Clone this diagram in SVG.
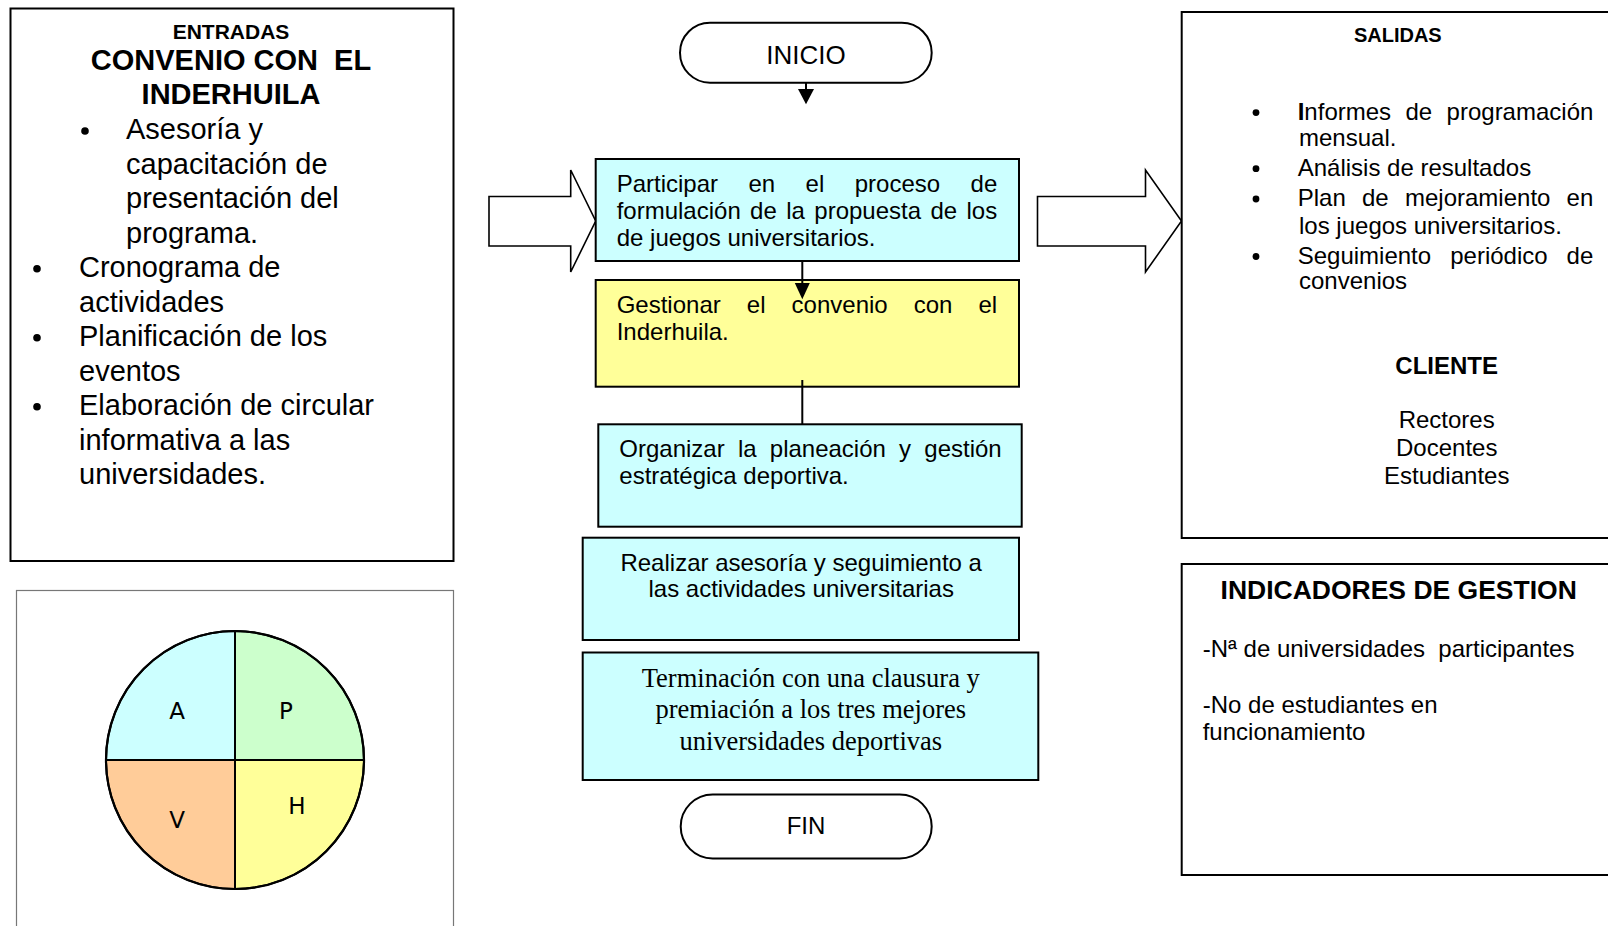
<svg xmlns="http://www.w3.org/2000/svg" width="1608" height="926" viewBox="0 0 1608 926">
<style>
text{font-family:"Liberation Sans",Arial,sans-serif;fill:#000}
.box{stroke:#000;stroke-width:2}
.cy{fill:#CCFFFF}
.ye{fill:#FFFF99}
.frame{fill:#fff;stroke:#000;stroke-width:2}
.t24{font-size:24px}
.t29{font-size:29px}
.b{font-weight:bold}
.mid{text-anchor:middle}
.end{text-anchor:end}
.blk{fill:#fff;stroke:#000;stroke-width:1.6;stroke-linejoin:miter}
.term{fill:#fff;stroke:#000;stroke-width:2}
.ser{font-family:"Liberation Serif","Times New Roman",serif;font-size:26.5px}
.pd{font-family:"DejaVu Sans",sans-serif;font-size:23px;text-anchor:middle}
.q{stroke:#000;stroke-width:2}
.con{stroke:#000;stroke-width:2;fill:none}
</style>
<rect width="1608" height="926" fill="#fff"/>

<g id="entradas">
<rect class="frame" x="10.5" y="8.5" width="443" height="552.5"/>
<text class="b mid" x="231" y="38.6" font-size="21">ENTRADAS</text>
<text class="b mid" x="231" y="69.6" font-size="29" xml:space="preserve">CONVENIO CON  EL</text>
<text class="b mid" x="231" y="103.6" font-size="29">INDERHUILA</text>
<circle cx="85" cy="131" r="3.8"/>
<circle cx="37" cy="268.8" r="3.8"/>
<circle cx="37" cy="337.8" r="3.8"/>
<circle cx="37" cy="406.8" r="3.8"/>
<text class="t29" x="126" y="139.3">Asesoría y</text>
<text class="t29" x="126" y="173.8">capacitación de</text>
<text class="t29" x="126" y="208.3">presentación del</text>
<text class="t29" x="126" y="242.8">programa.</text>
<text class="t29" x="79" y="277.3">Cronograma de</text>
<text class="t29" x="79" y="311.8">actividades</text>
<text class="t29" x="79" y="346.3">Planificación de los</text>
<text class="t29" x="79" y="380.8">eventos</text>
<text class="t29" x="79" y="415.3">Elaboración de circular</text>
<text class="t29" x="79" y="449.8">informativa a las</text>
<text class="t29" x="79" y="484.3">universidades.</text>
</g>

<g id="pdca">
<rect x="16.5" y="590.5" width="437" height="345" fill="#fff" stroke="#777" stroke-width="1.2"/>
<path class="q" d="M235,760 L106,760 A129,129 0 0 1 235,631 Z" fill="#CCFFFF"/>
<path class="q" d="M235,760 L235,631 A129,129 0 0 1 364,760 Z" fill="#CCFFCC"/>
<path class="q" d="M235,760 L106,760 A129,129 0 0 0 235,889 Z" fill="#FFCC99"/>
<path class="q" d="M235,760 L235,889 A129,129 0 0 0 364,760 Z" fill="#FFFF99"/>
<circle cx="235" cy="760" r="129" fill="none" stroke="#000" stroke-width="2.2"/>
<text class="pd" x="177" y="719">A</text>
<text class="pd" x="286" y="719">P</text>
<text class="pd" x="177" y="828">V</text>
<text class="pd" x="297" y="814">H</text>
</g>

<g id="arrow-in">
<polygon class="blk" points="489,196.5 570.7,196.5 570.7,170 595.7,221 570.7,272 570.7,246 489,246"/>
</g>
<g id="arrow-out">
<polygon class="blk" points="1037.5,196.5 1145.5,196.5 1145.5,170 1181.5,221 1145.5,272 1145.5,246 1037.5,246"/>
</g>

<g id="inicio">
<rect class="term" x="680" y="22.7" width="251.7" height="60" rx="30" ry="30"/>
<text class="mid" x="806" y="64" font-size="26">INICIO</text>
</g>

<g id="paso1">
<rect class="box cy" x="595.7" y="159" width="423.3" height="102"/>
<text class="t24" y="191.7"><tspan x="616.7">Participar</tspan><tspan x="748.5">en</tspan><tspan x="805.6">el</tspan><tspan x="854.7">proceso</tspan><tspan x="970.6">de</tspan></text>
<text class="t24" y="219"><tspan x="616.7">formulación</tspan><tspan x="750.1">de</tspan><tspan x="786.2">la</tspan><tspan x="814.3">propuesta</tspan><tspan x="930.4">de</tspan><tspan x="966.5">los</tspan></text>
<text class="t24" x="616.7" y="246">de juegos universitarios.</text>
</g>

<g id="paso2">
<rect class="box ye" x="595.7" y="280" width="423.3" height="106.7"/>
<text class="t24" y="312.7"><tspan x="616.7">Gestionar</tspan><tspan x="746.8">el</tspan><tspan x="791.6">convenio</tspan><tspan x="913.7">con</tspan><tspan x="978.5">el</tspan></text>
<text class="t24" x="616.7" y="340">Inderhuila.</text>
</g>

<g id="paso3">
<rect class="box cy" x="598.3" y="424.3" width="423.4" height="102.4"/>
<text class="t24" y="456.7"><tspan x="619.3">Organizar</tspan><tspan x="737.9">la</tspan><tspan x="769.8">planeación</tspan><tspan x="899.1">y</tspan><tspan x="924.3">gestión</tspan></text>
<text class="t24" x="619.3" y="484.3">estratégica deportiva.</text>
</g>

<g id="paso4">
<rect class="box cy" x="582.7" y="537.7" width="436.3" height="102.3"/>
<text class="t24 mid" x="801.2" y="570.7">Realizar asesoría y seguimiento a</text>
<text class="t24 mid" x="801.2" y="597.3">las actividades universitarias</text>
</g>

<g id="paso5">
<rect class="box cy" x="582.7" y="652.5" width="455.6" height="127.5"/>
<text class="ser mid" x="810.8" y="687.3">Terminación con una clausura y</text>
<text class="ser mid" x="810.8" y="718.3">premiación a los tres mejores</text>
<text class="ser mid" x="810.8" y="750">universidades deportivas</text>
</g>

<g id="fin">
<rect class="term" x="680.7" y="794.5" width="251" height="64" rx="32" ry="32"/>
<text class="t24 mid" x="806" y="834">FIN</text>
</g>

<g id="connectors">
<line class="con" x1="806" y1="82.7" x2="806" y2="90"/>
<polygon points="798,89 814,89 806,104.3"/>
<line class="con" x1="802.3" y1="261" x2="802.3" y2="284"/>
<polygon points="794.8,283 809.8,283 802.3,299.3"/>
<line class="con" x1="802.3" y1="380" x2="802.3" y2="424.3"/>
</g>

<g id="salidas">
<rect class="frame" x="1181.7" y="12" width="440" height="526"/>
<text class="b mid" x="1397.8" y="42" font-size="20">SALIDAS</text>
<circle cx="1256" cy="112.6" r="3.4"/>
<circle cx="1256" cy="168.7" r="3.4"/>
<circle cx="1256" cy="199" r="3.4"/>
<circle cx="1256" cy="256.5" r="3.4"/>
<text class="t24" y="119.5"><tspan x="1297.7"><tspan class="b">I</tspan>nformes</tspan><tspan x="1405.5">de</tspan><tspan x="1446.6">programación</tspan></text>
<text class="t24" x="1299" y="146.4">mensual.</text>
<text class="t24" x="1297.7" y="175.7">Análisis de resultados</text>
<text class="t24" y="206"><tspan x="1297.7">Plan</tspan><tspan x="1362">de</tspan><tspan x="1405">mejoramiento</tspan><tspan x="1566.6">en</tspan></text>
<text class="t24" x="1299" y="234.2">los juegos universitarios.</text>
<text class="t24" y="263.5"><tspan x="1297.7">Seguimiento</tspan><tspan x="1450.2">periódico</tspan><tspan x="1566.6">de</tspan></text>
<text class="t24" x="1299" y="289.4">convenios</text>
<text class="b mid" x="1446.7" y="374.4" font-size="24">CLIENTE</text>
<text class="t24 mid" x="1446.7" y="428.2">Rectores</text>
<text class="t24 mid" x="1446.7" y="456.4">Docentes</text>
<text class="t24 mid" x="1446.7" y="484">Estudiantes</text>
</g>

<g id="indicadores">
<rect class="frame" x="1181.7" y="564" width="440" height="311"/>
<text class="b mid" x="1398.7" y="599.3" font-size="26.5">INDICADORES DE GESTION</text>
<text class="t24" x="1202.7" y="656.7" xml:space="preserve">-Nª de universidades  participantes</text>
<text class="t24" x="1202.7" y="712.7">-No de estudiantes en</text>
<text class="t24" x="1202.7" y="740">funcionamiento</text>
</g>
</svg>
